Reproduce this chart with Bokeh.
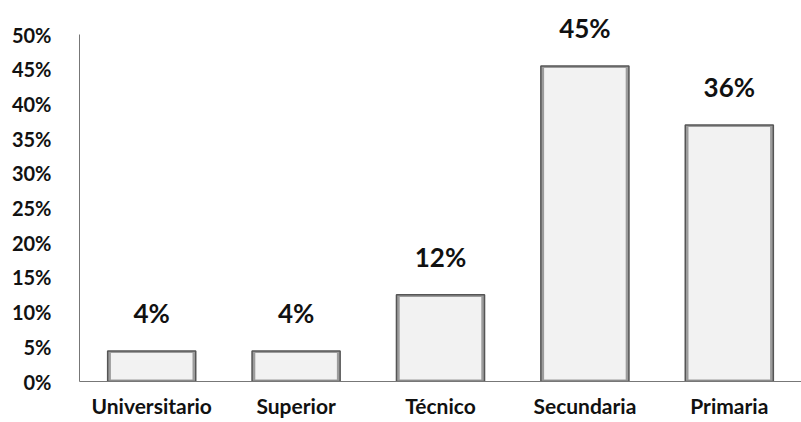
from bokeh.plotting import figure
from bokeh.models import Range1d, ColumnDataSource, NumeralTickFormatter, FixedTicker
from bokeh.core.properties import value
from bokeh.embed import file_html
from bokeh.resources import INLINE

categories = ["Universitario", "Superior", "Técnico", "Secundaria", "Primaria"]
values = [4.4, 4.4, 12.5, 45.5, 37.0]
value_labels = ["4%", "4%", "12%", "45%", "36%"]
y_ticks = [0, 5, 10, 15, 20, 25, 30, 35, 40, 45, 50]

FONT = "Lato"

src = ColumnDataSource(dict(cat=categories, val=values, lab=value_labels,
                            inner=[v - 0.3 for v in values]))

p = figure(x_range=categories, y_range=Range1d(0, 53.5), width=801, height=422,
           output_backend="svg", toolbar_location=None,
           min_border_left=79, min_border_right=0, min_border_top=10, min_border_bottom=41)

p.outline_line_color = None
p.xgrid.grid_line_color = None
p.ygrid.grid_line_color = None
p.background_fill_color = "white"
p.border_fill_color = "white"

# bars: shaded edges with lighter centre
p.vbar(x="cat", top="val", width=0.61, source=src,
       fill_color="#9c9c9c", line_color="#555555", line_width=1.5)
p.vbar(x="cat", top="inner", bottom=0.3, width=0.565, source=src,
       fill_color="#f2f2f2", line_color=None)

p.text(x="cat", y="val", text="lab", source=src, text_align="center",
       text_baseline="bottom", y_offset=-22, text_font=value(FONT),
       text_font_style="bold", text_font_size="26px", text_color="#111111")

p.yaxis.ticker = FixedTicker(ticks=y_ticks)
p.yaxis.formatter = NumeralTickFormatter(format="0")
p.yaxis.major_label_overrides = {t: f"{t}%" for t in y_ticks}
p.yaxis.bounds = (0, 50)
p.yaxis.major_tick_line_color = None
p.yaxis.minor_tick_line_color = None
p.yaxis.axis_line_color = "#777777"
p.yaxis.major_label_standoff = 22
p.yaxis.major_label_text_font = FONT
p.yaxis.major_label_text_font_style = "bold"
p.yaxis.major_label_text_font_size = "20px"
p.yaxis.major_label_text_color = "#111111"

p.xaxis.major_tick_line_color = None
p.xaxis.minor_tick_line_color = None
p.xaxis.major_tick_out = 0
p.xaxis.major_tick_in = 0
p.xaxis.axis_line_color = "#777777"
p.xaxis.major_label_standoff = 11
p.xaxis.major_label_text_font = FONT
p.xaxis.major_label_text_font_style = "bold"
p.xaxis.major_label_text_font_size = "21px"
p.xaxis.major_label_text_color = "#111111"

open("out.html", "w").write(file_html(p, INLINE))
